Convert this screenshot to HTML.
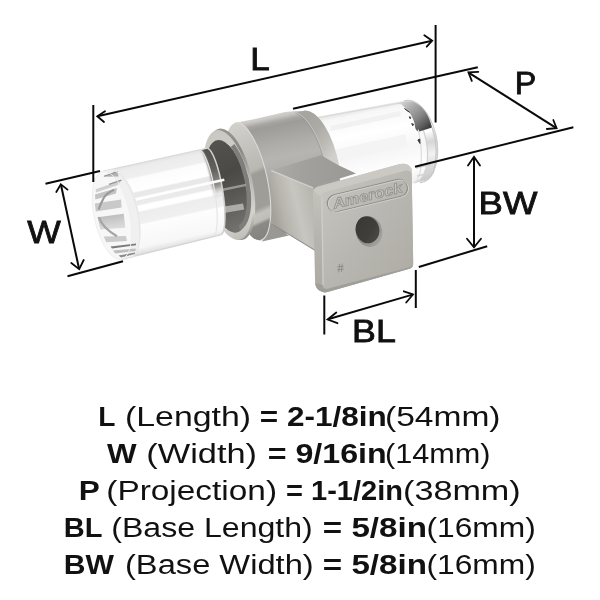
<!DOCTYPE html>
<html>
<head>
<meta charset="utf-8">
<title>Amerock dimensions</title>
<style>
html,body{margin:0;padding:0;background:#fff;}
body{width:600px;height:600px;overflow:hidden;font-family:"Liberation Sans",sans-serif;}
svg{will-change:transform;display:block;position:absolute;left:0;top:0;}
text{font-family:"Liberation Sans",sans-serif;fill:#111;}
.b{font-weight:bold;}
.lbl{font-size:32px;stroke:#111;stroke-width:0.85;}
.dim{stroke:#0a0a0a;stroke-width:2;fill:none;stroke-linecap:butt;}
.arr{stroke:#0a0a0a;stroke-width:1.8;fill:none;stroke-linecap:round;stroke-linejoin:miter;}
</style>
</head>
<body>
<svg width="600" height="600" viewBox="0 0 600 600">
<defs>
  <linearGradient id="gBarrel" gradientUnits="userSpaceOnUse" x1="268" y1="116" x2="293" y2="234">
    <stop offset="0" stop-color="#d2d1cd"/><stop offset="0.025" stop-color="#c6c5c1"/><stop offset="0.06" stop-color="#a6a5a1"/><stop offset="0.09" stop-color="#9d9c98"/>
    <stop offset="0.15" stop-color="#a3a29e"/><stop offset="0.25" stop-color="#aeada9"/><stop offset="0.36" stop-color="#b6b5b1"/><stop offset="0.5" stop-color="#adaca8"/>
    <stop offset="0.7" stop-color="#9c9b97"/><stop offset="0.88" stop-color="#94938f"/><stop offset="1" stop-color="#8a8985"/>
  </linearGradient>
  <linearGradient id="gRim" gradientUnits="userSpaceOnUse" x1="303" y1="122" x2="338" y2="152">
    <stop offset="0" stop-color="#a7a59f"/><stop offset="0.35" stop-color="#adaba5"/><stop offset="0.7" stop-color="#bfbdb7"/><stop offset="1" stop-color="#d2d0cb"/>
  </linearGradient>
  <linearGradient id="gStemTop" gradientUnits="userSpaceOnUse" x1="275" y1="168" x2="350" y2="176">
    <stop offset="0" stop-color="#adaba7"/><stop offset="0.35" stop-color="#a3a19d"/><stop offset="1" stop-color="#9b9995"/>
  </linearGradient>
  <linearGradient id="gStemSide" gradientUnits="userSpaceOnUse" x1="271" y1="205" x2="312" y2="195">
    <stop offset="0" stop-color="#a3a19a"/><stop offset="0.25" stop-color="#b6b4ad"/><stop offset="0.6" stop-color="#c8c6c0"/><stop offset="1" stop-color="#b8b6af"/>
  </linearGradient>
  <linearGradient id="gPlate" gradientUnits="userSpaceOnUse" x1="318" y1="192" x2="412" y2="268">
    <stop offset="0" stop-color="#c6c4be"/><stop offset="0.5" stop-color="#b9b7b1"/><stop offset="1" stop-color="#afada6"/>
  </linearGradient>
  <linearGradient id="gHole" gradientUnits="userSpaceOnUse" x1="357" y1="219" x2="378" y2="241">
    <stop offset="0" stop-color="#3a3835"/><stop offset="0.6" stop-color="#403e3b"/><stop offset="1" stop-color="#4d4b48"/>
  </linearGradient>
  <linearGradient id="gFlangeFace" gradientUnits="userSpaceOnUse" x1="235.5" y1="122.8" x2="260.5" y2="240.2">
    <stop offset="0" stop-color="#d3d1cb"/><stop offset="0.25" stop-color="#c4c2bc"/><stop offset="0.43" stop-color="#bab8b2"/><stop offset="0.47" stop-color="#9e9c97"/>
    <stop offset="0.74" stop-color="#a09e99"/><stop offset="0.785" stop-color="#c4c2bc"/><stop offset="0.84" stop-color="#c0beb8"/><stop offset="0.87" stop-color="#8c8a86"/><stop offset="1" stop-color="#84827e"/>
  </linearGradient>
  <linearGradient id="gLipSide" gradientUnits="userSpaceOnUse" x1="220" y1="128" x2="244" y2="240">
    <stop offset="0" stop-color="#9a9892"/><stop offset="0.25" stop-color="#8a8882"/><stop offset="0.5" stop-color="#b5b3ad"/><stop offset="0.8" stop-color="#d6d4cf"/><stop offset="1" stop-color="#8a8883"/>
  </linearGradient>
  <linearGradient id="gLipFace" gradientUnits="userSpaceOnUse" x1="217.4" y1="130.2" x2="240.6" y2="239.8">
    <stop offset="0" stop-color="#c9c7c1"/><stop offset="0.5" stop-color="#d6d4cf"/><stop offset="0.85" stop-color="#d2d0cb"/><stop offset="1" stop-color="#bebcb6"/>
  </linearGradient>
  <linearGradient id="gBore" gradientUnits="userSpaceOnUse" x1="222" y1="142" x2="241" y2="233">
    <stop offset="0" stop-color="#54524f"/><stop offset="0.35" stop-color="#4b4946"/><stop offset="0.55" stop-color="#575552"/><stop offset="0.75" stop-color="#65635f"/><stop offset="1" stop-color="#777571"/>
  </linearGradient>
  <linearGradient id="gRefl" gradientUnits="userSpaceOnUse" x1="205" y1="148" x2="221" y2="197">
    <stop offset="0" stop-color="#52504d"/><stop offset="0.45" stop-color="#62605c"/><stop offset="0.75" stop-color="#7c7a76" stop-opacity="0.85"/><stop offset="1" stop-color="#bcbab7" stop-opacity="0"/>
  </linearGradient>
  <linearGradient id="gGlassL" gradientUnits="userSpaceOnUse" x1="150" y1="160.5" x2="169" y2="248.5">
    <stop offset="0" stop-color="#e2e2e2"/><stop offset="0.04" stop-color="#ececec"/><stop offset="0.14" stop-color="#efefef"/><stop offset="0.16" stop-color="#fcfcfc"/>
    <stop offset="0.3" stop-color="#ffffff"/><stop offset="0.32" stop-color="#e8e8e8"/><stop offset="0.45" stop-color="#ebebeb"/><stop offset="0.47" stop-color="#ffffff"/>
    <stop offset="0.52" stop-color="#ffffff"/><stop offset="0.54" stop-color="#ededed"/><stop offset="0.66" stop-color="#f0f0f0"/><stop offset="0.68" stop-color="#fdfdfd"/>
    <stop offset="0.92" stop-color="#f7f7f7"/><stop offset="1" stop-color="#dedede"/>
  </linearGradient>
  <linearGradient id="gGlassR" gradientUnits="userSpaceOnUse" x1="355" y1="110" x2="372" y2="193">
    <stop offset="0" stop-color="#e4e4e4"/><stop offset="0.06" stop-color="#f7f7f7"/><stop offset="0.3" stop-color="#ffffff"/>
    <stop offset="0.55" stop-color="#f6f6f6"/><stop offset="0.8" stop-color="#ffffff"/><stop offset="1" stop-color="#ececec"/>
  </linearGradient>
  <linearGradient id="gCap" gradientUnits="userSpaceOnUse" x1="405" y1="101" x2="424" y2="181">
    <stop offset="0" stop-color="#dedede"/><stop offset="0.12" stop-color="#bdbdbd"/><stop offset="0.28" stop-color="#e4e4e4"/>
    <stop offset="0.42" stop-color="#ffffff"/><stop offset="0.55" stop-color="#d6d6d6"/><stop offset="0.7" stop-color="#f2f2f2"/>
    <stop offset="0.85" stop-color="#dadada"/><stop offset="1" stop-color="#c8c8c8"/>
  </linearGradient>
  <linearGradient id="gFace" gradientUnits="userSpaceOnUse" x1="95" y1="200" x2="130" y2="230">
    <stop offset="0" stop-color="#ededed"/><stop offset="1" stop-color="#e2e2e2"/>
  </linearGradient>
  <linearGradient id="gCapBand" gradientUnits="userSpaceOnUse" x1="402" y1="102" x2="426" y2="130">
    <stop offset="0" stop-color="#d2d2d2"/><stop offset="0.3" stop-color="#a8a8a8"/><stop offset="0.6" stop-color="#868686"/><stop offset="0.85" stop-color="#5c5c5c"/><stop offset="1" stop-color="#3e3e3e"/>
  </linearGradient>
  <linearGradient id="gStreak" gradientUnits="userSpaceOnUse" x1="110" y1="215" x2="112" y2="229">
    <stop offset="0" stop-color="#bdbdbd"/><stop offset="0.5" stop-color="#cdcdcd"/><stop offset="1" stop-color="#dcdcdc"/>
  </linearGradient>
  <linearGradient id="gBevelL" gradientUnits="userSpaceOnUse" x1="314" y1="190" x2="316" y2="288">
    <stop offset="0" stop-color="#c4c2bc"/><stop offset="0.5" stop-color="#b6b4ae"/><stop offset="1" stop-color="#abaaa3"/>
  </linearGradient>
  <linearGradient id="gHoleRim" gradientUnits="userSpaceOnUse" x1="358" y1="220" x2="381" y2="244">
    <stop offset="0" stop-color="#8b8984"/><stop offset="0.5" stop-color="#8f8d88"/><stop offset="1" stop-color="#a9a7a2"/>
  </linearGradient>
  <clipPath id="cGlassL"><path d="M103.5,171.2 L207.5,148.2 A9.2,44 -9 0 1 221.5,234.6 L121.5,259.3 A17.5,45 -12 0 1 103.5,171.2 Z"/></clipPath>
  <filter id="fBlur" x="-30%" y="-10%" width="160%" height="120%"><feGaussianBlur stdDeviation="1.3"/></filter>
  <clipPath id="cFace"><ellipse cx="109.8" cy="215.3" rx="13.8" ry="44.5" transform="rotate(-12 109.8 215.3)"/></clipPath>
</defs>
<rect width="600" height="600" fill="#ffffff"/>

<!-- PRODUCT -->
<g id="product">
  <!-- ===== right glass (behind) ===== -->
  <path d="M314,117.5 L404,100.8 A22,40 -12 0 1 424,180.5 L330,204 Z" fill="url(#gGlassR)"/>
  <!-- right cap band -->
  <path d="M398,103.2 L405,100.9 A22,40 -12 0 1 424,180.4 L414,183 A20,40 -12 0 0 398,103.2 Z" fill="url(#gCap)"/>
  <path d="M404,100.8 A22,40 -12 0 1 424,180.5" fill="none" stroke="#c9c9c9" stroke-width="1"/>
  <path d="M398,103.5 A20,40 -12 0 1 414,183" fill="none" stroke="#d2d2d2" stroke-width="1.2"/>
  <path d="M316,118 L398,103.4" fill="none" stroke="#d9d9d9" stroke-width="1.2"/>
  <path d="M330,126 L400,111 L401,116 L331,131Z" fill="#f1f1f1"/>
  <path d="M334,150 L406,134 L407,146 L336,162Z" fill="#f4f4f4"/>
  <!-- chrome-like band on cap -->
  <path d="M400.3,102.6 Q406,100.8 412.8,101.7 Q420,104.5 425.3,111.7 Q429.5,117.5 432,127.6 L418.7,131.8 Q415.8,130.5 415.3,128.3 Q415,124.5 413.7,120.8 Q412,116 409.5,112.5 Q406.5,108.5 402.8,105.8 Z" fill="url(#gCapBand)"/>
  <path d="M432.3,127.6 Q439.5,150 433.5,172 Q429,181.5 420,182.8" fill="none" stroke="#c9c9c9" stroke-width="1.4"/>
  <path d="M418.3,129.6 Q423,150 420.5,170 Q419,178 415,183" fill="none" stroke="#dedede" stroke-width="1.2"/>
  <path d="M404.5,108.5 L409.5,112.3 L407,110.5Z M409.2,116.8 l1.6,0.4 l-0.6,1.6z M411.6,123.6 l2,0.6 l-0.8,1.6z M417.8,140 l2,-1 l0.2,4.5z" fill="#2e2e2e" stroke="#2e2e2e" stroke-width="0.8"/>
  <path d="M416,168 L431,164.5 M417,176 L428,173.5" fill="none" stroke="#d4d4d4" stroke-width="1.6"/>

  <!-- ===== barrel body ===== -->
  <path d="M235.5,122.8 L255,119 L285,111.9 L296,110.9 L303,110.9 A23.5,57 -12 0 1 326,222.6 L260.5,240.2 Z" fill="url(#gBarrel)"/>
  <!-- right rim chamfer band -->
  <path d="M296.5,112.2 L303,110.9 A23.5,57 -12 0 1 339.4,167 L324.5,158.5 A27,58.5 -12 0 0 296.5,112.2 Z" fill="url(#gRim)"/>
  <path d="M296.5,112.4 A27,58.5 -12 0 1 324.3,158" fill="none" stroke="#c9c7c1" stroke-width="0.9" opacity="0.9"/>
  <path d="M295.3,112.8 A27,58.5 -12 0 1 323.3,158.6" fill="none" stroke="#8f8d87" stroke-width="0.8" opacity="0.6"/>

  <!-- ===== stem ===== -->
  <path d="M262,241.6 L271.6,224 L289,235.6 Z" fill="#9a9894"/>
  <path d="M271.5,170.2 L321,155.2 L338,165 L356,173.5 L311.2,187.2 Z" fill="url(#gStemTop)"/>
  <path d="M271,171 L315.5,189.4 L315.5,251 L271,223.6 Z" fill="url(#gStemSide)"/>
  <path d="M271.3,170.6 L313,187.9" stroke="#d3d1cc" stroke-width="1.5" fill="none"/>
  <path d="M272.5,224.4 L315.5,250.6" stroke="#8f8d88" stroke-width="1.1" fill="none"/>

  <!-- ===== plate ===== -->
  <!-- outer (bevel base) -->
  <path d="M313,194 Q313,188 318.5,186.5 L400,164 Q408.5,162.4 411.6,169 L413.2,263.5 Q413.3,267.6 409.5,268.8 L327.5,292 Q323,293.2 319.3,290.6 Q315.3,287.6 315.1,282 Z" fill="url(#gBevelL)"/>
  <!-- top bevel -->
  <path d="M313.4,190.5 Q314.5,187.3 318.5,186.5 L400,164 Q408.5,162.4 411.6,169 L411.8,175 Q411,169.6 405,170.8 L326,192 Q322,193.2 321.4,197 Z" fill="#cbc9c4"/>
  <!-- bottom bevel -->
  <path d="M315.2,283 Q315.6,288 319.3,290.6 Q323,293.2 327.5,292 L409.5,268.8 Q413,267.8 413.2,264 Q412.5,266.3 409,267.2 L328,288.6 Q323.5,289.6 322.6,285 Z" fill="#a09e98"/>
  <!-- front face -->
  <path d="M326,192 L405,170.8 Q411.3,169.4 411.8,175.5 L413.2,262.5 Q413.2,266.3 409,267.2 L328,288.6 Q322.9,289.7 322.6,284.5 L321.4,198 Q321.4,193.2 326,192 Z" fill="url(#gPlate)"/>
  <path d="M321.9,197 L323.1,285" stroke="#cfcdc8" stroke-width="1.3" fill="none"/>
  <ellipse cx="369" cy="231.6" rx="13.2" ry="15.4" transform="rotate(-14 369 231.6)" fill="url(#gHoleRim)"/>
  <ellipse cx="367.5" cy="229.8" rx="11.8" ry="13.6" transform="rotate(-14 367.5 229.8)" fill="url(#gHole)"/>
  <g transform="translate(367.5,195.6) rotate(-13.5)">
    <rect x="-41" y="-8.6" width="82" height="17.2" rx="8.6" ry="8.6" fill="none" stroke="#8f8d87" stroke-width="1.3"/>
    <rect x="-40.2" y="-7.8" width="82" height="17.2" rx="8.6" ry="8.6" fill="none" stroke="#d7d5d0" stroke-width="0.8"/>
    <text x="-35.5" y="5" font-size="14.5" font-style="italic" textLength="71" lengthAdjust="spacingAndGlyphs" style="fill:#c6c4be;stroke:#95938d;stroke-width:0.8;font-weight:bold;">Amerock</text>
  </g>
  <text x="337" y="272" font-size="12" style="fill:#7f7d78;" transform="rotate(-8 341 267)">#</text>

  <!-- ===== collar front ===== -->
  <!-- flange disc -->
  <ellipse cx="248" cy="181.5" rx="19.5" ry="60" transform="rotate(-12 248 181.5)" fill="url(#gFlangeFace)"/>
  <path d="M235.5,122.8 A19.5,60 -12 0 1 260.5,240.2" fill="none" stroke="#dcdad5" stroke-width="1.1"/>
  <!-- lip side -->
  <ellipse cx="230.7" cy="184.3" rx="22" ry="56.8" transform="rotate(-12 230.7 184.3)" fill="url(#gLipSide)"/>
  <!-- lip face -->
  <ellipse cx="228" cy="185" rx="22" ry="56" transform="rotate(-12 228 185)" fill="url(#gLipFace)"/>
  <!-- bore -->
  <ellipse cx="226.8" cy="186.4" rx="19.6" ry="47.2" transform="rotate(-12 226.8 186.4)" fill="url(#gBore)"/>
  <path d="M232.5,145.5 A19,46.5 -12 0 1 239.5,227.8" fill="none" stroke="#807e7a" stroke-width="4.5"/>
  <path d="M218,189.5 L246,183.8 L246.2,186 L218,192Z" fill="#9a9893"/>
  <path d="M218,207.5 L243,203.5 L244.3,209.5 L218,214Z" fill="#aeaca7"/>

  <!-- ===== left glass ===== -->
  <path d="M103.5,171.2 L207.5,148.2 A9.2,44 -9 0 1 221.5,234.6 L121.5,259.3 A17.5,45 -12 0 1 103.5,171.2 Z" fill="url(#gGlassL)"/>
  <!-- grey reflection band near collar end -->
  <g clip-path="url(#cGlassL)"><path d="M196.5,146 L212,146 A9.2,44 -9 0 1 227.6,196 L214.2,199 A9.2,44 -9 0 0 196.5,146Z" fill="url(#gRefl)" filter="url(#fBlur)"/></g>
  <path d="M207.5,148.2 A9.2,44 -9 0 1 221.5,234.6" fill="none" stroke="#d0d0ce" stroke-width="1.5"/>
  <path d="M199.5,150 A9.2,44 -9 0 1 213.5,236.6" fill="none" stroke="#e6e6e4" stroke-width="1.2"/>
  <path d="M103.5,171.2 L207.5,148.2" fill="none" stroke="#dadada" stroke-width="1.2"/>
  <path d="M121.5,259.3 L221.5,234.6" fill="none" stroke="#d4d4d4" stroke-width="1.4"/>
  <!-- white streaks through glass -->
  <path d="M135,198 L224,178.5 L224.6,181 L135.5,201Z" fill="#ffffff" opacity="0.95"/>
  <!-- chamfer band -->
  <path d="M102.6,171.3 A17.8,45 -12 0 1 121.4,259.3 L131.4,257 A17.8,45 -12 0 0 112.6,169.2 Z" fill="#f0f0f0"/>
  <!-- left end face -->
  <g>
    <ellipse cx="112" cy="215.3" rx="17.8" ry="45" transform="rotate(-12 112 215.3)" fill="#f7f7f7"/>
    <path d="M103.3,176.8 L117.5,171.6 L118.6,176.4 Z" fill="#b2b2b2"/>
    <path d="M104,176.2 L117.6,171.5" stroke="#8e8e8e" stroke-width="1" fill="none"/>
    <path d="M95.6,189.2 L121.5,180.2 L118,185 L96,192.4 Z" fill="#d0d0d0"/>
    <path d="M109,184.4 L121.5,180.2" stroke="#949494" stroke-width="1.3" fill="none"/>
    <path d="M95,194.4 L117,188 L116,193.4 L95.4,199.4 Z" fill="#c3c3c3"/>
    <path d="M94.8,203.6 L121,199.4 L121.6,207.4 L95.8,211.4 Z" fill="#c9c9c9"/>
    <path d="M97.6,217.2 L123.7,213.7 L125.3,227.8 L100.5,229.6 Z" fill="url(#gStreak)"/>
    <path d="M103.7,236.6 L126,236 L127,241 L106.2,242.2 Z" fill="#cbcbcb"/>
    <path d="M110.5,246.4 L136,243.4 L136,245.3 L112,248.4 Z" fill="#7c7c7c"/>
    <path d="M113,250.4 L135.6,248.4 L135.6,251 L115.4,253.4 Z" fill="#bebebe"/>
    <path d="M118.6,255.4 L135,252.4 L135,254 L121,257.4 Z" fill="#8c8c8c"/>
    <path d="M114.2,189.7 Q106,193 103.3,198.8 Q100.6,204 98.6,209.5" fill="none" stroke="#9a9a9a" stroke-width="2.1"/>
    <path d="M98.7,217.2 Q103,228.5 117,236.2" fill="none" stroke="#a6a6a6" stroke-width="2.3"/>
    <ellipse cx="112" cy="215.3" rx="17.8" ry="45" transform="rotate(-12 112 215.3)" fill="none" stroke="#ececec" stroke-width="0.9"/>
    <!-- chamfer ring -->
    <path d="M113,170.6 A17.8,45 -12 0 1 131.5,258" fill="none" stroke="#e6e6e6" stroke-width="1.2"/>
  </g>
</g>

<!-- DIMENSION LINES -->
<g id="dims">
  <!-- L -->
  <line class="dim" x1="93.3" y1="105" x2="93.3" y2="182"/>
  <line class="dim" x1="435.6" y1="25" x2="435.6" y2="122.5"/>
  <line class="dim" x1="97.5" y1="116.2" x2="432" y2="40.8"/>
  <polyline class="arr" points="105,111.2 97.3,116.3 104,122"/>
  <polyline class="arr" points="424.3,35.2 432.2,40.7 426.7,46.7"/>
  <!-- W -->
  <line class="dim" x1="45.5" y1="183.8" x2="100" y2="171"/>
  <line class="dim" x1="67.5" y1="276.3" x2="123" y2="261.3"/>
  <line class="dim" x1="61" y1="185" x2="79" y2="268.5"/>
  <polyline class="arr" points="56.3,192 60.8,184.4 67.5,189.6"/>
  <polyline class="arr" points="71.3,263 79.2,269.2 83.7,260"/>
  <!-- P -->
  <line class="dim" x1="293" y1="108.8" x2="477.8" y2="67.2"/>
  <line class="dim" x1="415" y1="166.8" x2="573.4" y2="127.2"/>
  <line class="dim" x1="469" y1="72.8" x2="556" y2="127.8"/>
  <polyline class="arr" points="478.3,71.8 468.4,72.4 471.8,80.8"/>
  <polyline class="arr" points="553.3,120 556.6,128.2 546.8,129"/>
  <!-- BW -->
  <line class="dim" x1="418.8" y1="267" x2="487.2" y2="246.2"/>
  <line class="dim" x1="474" y1="157.5" x2="474" y2="247"/>
  <polyline class="arr" points="468,165.5 474,156.8 480,165.5"/>
  <polyline class="arr" points="467,238.8 474,247.4 481,238.8"/>
  <!-- BL -->
  <line class="dim" x1="324.3" y1="295.5" x2="324.3" y2="334.5"/>
  <line class="dim" x1="415.8" y1="270" x2="415.8" y2="308"/>
  <line class="dim" x1="328" y1="319.3" x2="412.6" y2="294.6"/>
  <polyline class="arr" points="336.3,312.5 327.6,319.5 337.5,323.2"/>
  <polyline class="arr" points="403.8,291.3 413,294.5 406.2,302.5"/>
</g>

<!-- LABELS -->
<g id="labels">
  <text class="lbl" x="250.3" y="70" textLength="19.5" lengthAdjust="spacingAndGlyphs">L</text>
  <text class="lbl" x="27.2" y="242.6" textLength="33.5" lengthAdjust="spacingAndGlyphs">W</text>
  <text class="lbl" x="514.8" y="93.6" textLength="21.5" lengthAdjust="spacingAndGlyphs">P</text>
  <text class="lbl" x="478.6" y="213.6" textLength="58.8" lengthAdjust="spacingAndGlyphs">BW</text>
  <text class="lbl" x="352" y="342.2" textLength="43.8" lengthAdjust="spacingAndGlyphs">BL</text>
</g>

<!-- SPEC TEXT -->
<g id="spec" font-size="27">
  <text class="b" x="98.3" y="425.8" textLength="17.2" lengthAdjust="spacingAndGlyphs">L</text>
  <text x="125" y="425.8" textLength="126" lengthAdjust="spacingAndGlyphs">(Length)</text>
  <text class="b" x="259.8" y="425.8" textLength="127" lengthAdjust="spacingAndGlyphs">= 2-1/8in</text>
  <text x="385" y="425.8" textLength="115.5" lengthAdjust="spacingAndGlyphs">(54mm)</text>

  <text class="b" x="107" y="462.8" textLength="29.6" lengthAdjust="spacingAndGlyphs">W</text>
  <text x="146.3" y="462.8" textLength="110.7" lengthAdjust="spacingAndGlyphs">(Width)</text>
  <text class="b" x="267.7" y="462.8" textLength="119" lengthAdjust="spacingAndGlyphs">= 9/16in</text>
  <text x="385" y="462.8" textLength="105.5" lengthAdjust="spacingAndGlyphs">(14mm)</text>

  <text class="b" x="78.8" y="500" textLength="21" lengthAdjust="spacingAndGlyphs">P</text>
  <text x="106.3" y="500" textLength="170.7" lengthAdjust="spacingAndGlyphs">(Projection)</text>
  <text class="b" x="286" y="500" textLength="117" lengthAdjust="spacingAndGlyphs">= 1-1/2in</text>
  <text x="403" y="500" textLength="117.7" lengthAdjust="spacingAndGlyphs">(38mm)</text>

  <text class="b" x="63.8" y="537" textLength="38.7" lengthAdjust="spacingAndGlyphs">BL</text>
  <text x="111.3" y="537" textLength="201.5" lengthAdjust="spacingAndGlyphs">(Base Length)</text>
  <text class="b" x="322.8" y="537" textLength="104.2" lengthAdjust="spacingAndGlyphs">= 5/8in</text>
  <text x="426.5" y="537" textLength="109.3" lengthAdjust="spacingAndGlyphs">(16mm)</text>

  <text class="b" x="63.8" y="573.8" textLength="50.2" lengthAdjust="spacingAndGlyphs">BW</text>
  <text x="125" y="573.8" textLength="188.7" lengthAdjust="spacingAndGlyphs">(Base Width)</text>
  <text class="b" x="322.8" y="573.8" textLength="104.2" lengthAdjust="spacingAndGlyphs">= 5/8in</text>
  <text x="426.5" y="573.8" textLength="109.3" lengthAdjust="spacingAndGlyphs">(16mm)</text>
</g>
</svg>
</body>
</html>
